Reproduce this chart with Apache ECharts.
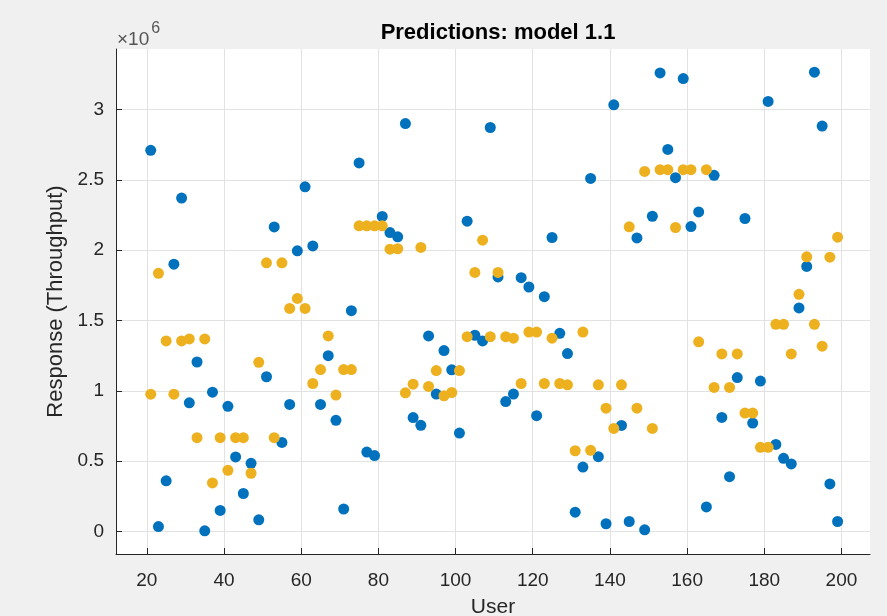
<!DOCTYPE html>
<html><head><meta charset="utf-8">
<script src="https://cdn.jsdelivr.net/npm/echarts@6/dist/echarts.min.js"></script>
<style>html,body{margin:0;padding:0;background:#f0f0f0;}#c{width:887px;height:616px;}</style>
</head><body><div id="c"></div>
<script>
const users = [21,23,25,27,29,31,33,35,37,39,41,43,45,47,49,51,53,55,57,59,
  61,63,65,67,69,71,73,75,77,79,81,83,85,87,89,91,93,95,97,99,
  101,103,105,107,109,111,113,115,117,119,121,123,125,127,129,131,133,135,137,139,
  141,143,145,147,149,151,153,155,157,159,161,163,165,167,169,171,173,175,177,179,
  181,183,185,187,189,191,193,195,197,199];
// values in units of 1e6
const actual = [2.71,0.035,0.36,1.90,2.37,0.915,1.205,0.005,0.99,0.15,
  0.89,0.53,0.27,0.485,0.083,1.10,2.165,0.633,0.903,1.995,
  2.45,2.03,0.903,1.25,0.79,0.16,1.57,2.62,0.565,0.54,
  2.24,2.125,2.095,2.90,0.81,0.755,1.39,0.977,1.286,1.149,
  0.70,2.206,1.395,1.355,2.872,1.81,0.924,0.977,1.804,1.738,
  0.823,1.669,2.09,1.409,1.265,0.137,0.458,2.51,0.532,0.055,
  3.033,0.754,0.071,2.087,0.012,2.241,3.26,2.716,2.515,3.22,
  2.168,2.272,0.175,2.532,0.811,0.39,1.094,2.225,0.771,1.069,
  3.057,0.619,0.52,0.48,1.589,1.884,3.265,2.882,0.338,0.071];
const predicted = [0.976,1.835,1.355,0.976,1.355,1.369,0.667,1.369,0.345,0.667,
  0.435,0.667,0.667,0.414,1.203,1.91,0.667,1.91,1.586,1.657,
  1.586,1.052,1.151,1.39,0.97,1.151,1.151,2.173,2.173,2.173,
  2.173,2.007,2.01,0.986,1.047,2.019,1.031,1.144,0.965,0.988,
  1.144,1.385,1.842,2.071,1.385,1.842,1.385,1.374,1.052,1.418,
  1.418,1.052,1.374,1.052,1.043,0.574,1.418,0.577,1.043,0.877,
  0.733,1.043,2.166,0.877,2.56,0.733,2.572,2.572,2.161,2.572,
  2.572,1.348,2.572,1.024,1.262,1.024,1.262,0.842,0.842,0.598,
  0.598,1.473,1.473,1.262,1.686,1.953,1.473,1.317,1.95,2.092];
const xTicks = [20,40,60,80,100,120,140,160,180,200];
const yTicks = [0,0.5,1,1.5,2,2.5,3];

const chart = echarts.init(document.getElementById('c'), null, {renderer:'canvas'});
const axisCol = '#262626';
const font = 'Liberation Sans, Arial, sans-serif';
chart.setOption({
  backgroundColor: '#f0f0f0',
  animation: false,
  title: {
    text: 'Predictions: model 1.1', left: 493, top: 17, textAlign: 'center',
    textStyle: {fontFamily: font, fontSize: 22, fontWeight: 'bold', color: '#000'}
  },
  grid: {left: 116, top: 49, width: 754, height: 505, show: true, backgroundColor: '#ffffff',
    borderWidth: 0, containLabel: false, outerBoundsMode: 'none'},
  xAxis: {
    type: 'value', min: 12, max: 207.4,
    name: 'User', nameLocation: 'middle', nameGap: 43,
    nameTextStyle: {fontFamily: font, fontSize: 21, color: axisCol},
    axisLine: {show: true, onZero: false, lineStyle: {color: axisCol, width: 1}},
    axisTick: {show: true, inside: true, length: 6, customValues: xTicks, lineStyle: {color: axisCol}},
    axisLabel: {customValues: xTicks, fontFamily: font, fontSize: 19, color: axisCol, margin: 17},
    splitLine: {show: true, lineStyle: {color: '#e2e2e2', width: 1}}
  },
  yAxis: {
    type: 'value', min: -0.16, max: 3.43,
    name: 'Response (Throughput)', nameLocation: 'middle', nameGap: 42,
    nameTextStyle: {fontFamily: font, fontSize: 22, color: axisCol},
    axisLine: {show: true, onZero: false, lineStyle: {color: axisCol, width: 1}},
    axisTick: {show: true, inside: true, length: 6, customValues: yTicks, lineStyle: {color: axisCol}},
    axisLabel: {customValues: yTicks, fontFamily: font, fontSize: 19, color: axisCol, margin: 12,
      formatter: v => String(v)},
    splitLine: {show: true, lineStyle: {color: '#e2e2e2', width: 1}}
  },
  graphic: [{
    type: 'text', left: 117, top: 21,
    style: {
      text: '{a|×10}{b|6}',
      rich: {
        a: {fontFamily: font, fontSize: 19, fill: '#555', verticalAlign: 'bottom', padding: [9,0,0,0]},
        b: {fontFamily: font, fontSize: 16, fill: '#555', verticalAlign: 'top', padding: [0,0,9,2]}
      }
    }
  }],
  series: [
    {type: 'scatter', name: 'actual', symbolSize: 11, itemStyle: {color: '#0072BD', opacity: 1},
     data: users.map((u, i) => [u, actual[i]])},
    {type: 'scatter', name: 'predicted', symbolSize: 11, itemStyle: {color: '#EDB120', opacity: 1},
     data: users.map((u, i) => [u, predicted[i]])}
  ]
});
</script></body></html>
